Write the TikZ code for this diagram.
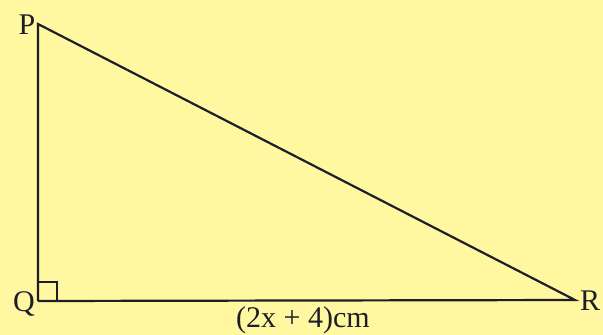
\documentclass[tikz,border=0pt]{standalone}
\usepackage{fontspec}
\setmainfont{Liberation Serif}
\usetikzlibrary{calc}
\definecolor{bgyellow}{RGB}{255,248,160}
\definecolor{ink}{RGB}{30,30,40}
\begin{document}
\begin{tikzpicture}[x=1pt,y=-1pt,
  lbl/.style={text=ink,inner sep=0pt,font=\fontsize{30}{33}\selectfont},
  side/.style={draw=ink,line width=2.2pt}]
\fill[bgyellow] (0,0) rectangle (603,335);
\useasboundingbox (0,0) rectangle (603,335);
\coordinate (P) at (38,24);
\coordinate (Q) at (38,301);
\coordinate (R) at (575,300);
\draw[side,line join=miter] (Q) -- (P) -- (R) -- (Q);
\draw[draw=ink,line width=1.5pt] ($(Q)+(0,-19)$) -- ++(19,0) -- ++(0,19);
\node[lbl] (lp) at (27,25) {P};
\node[lbl] (lq) at (24,304) {Q};
\node[lbl] (lr) at (590,301) {R};
\node[lbl] (len) at (303,320) {(2x + 4)cm};
\end{tikzpicture}
\end{document}
